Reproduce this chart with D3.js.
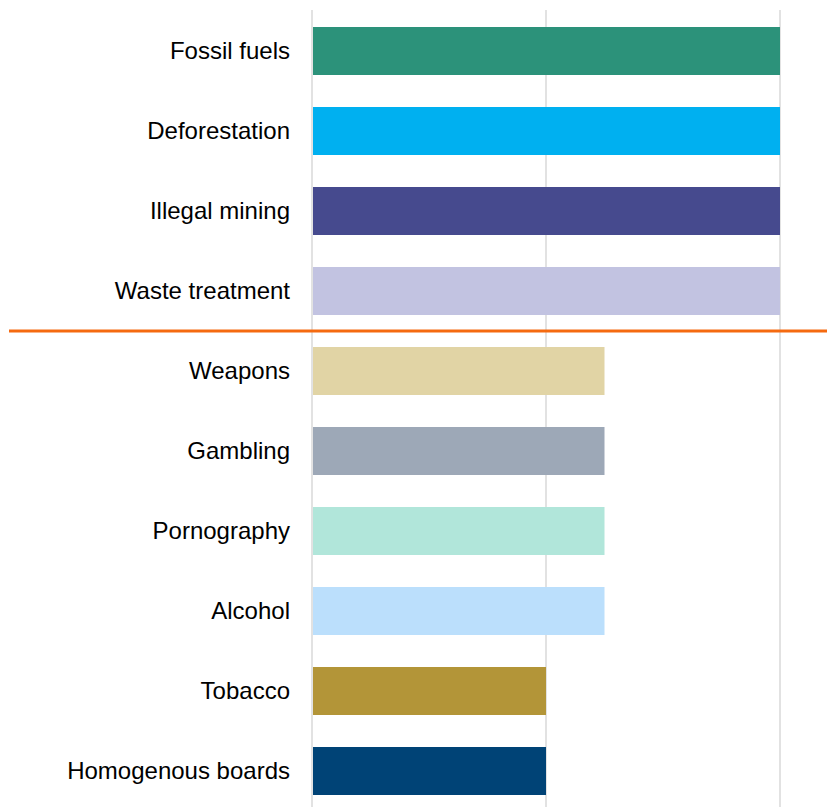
<!DOCTYPE html>
<html>
<head>
<meta charset="utf-8">
<script src="https://cdn.jsdelivr.net/npm/d3@7"></script>
<style>
  html, body { margin: 0; padding: 0; background: #fff; }
  svg { display: block; }
</style>
</head>
<body>
<svg id="chart" width="827" height="807"></svg>
<script>
const categories = ["Fossil fuels", "Deforestation", "Illegal mining", "Waste treatment", "Weapons", "Gambling", "Pornography", "Alcohol", "Tobacco", "Homogenous boards"];
const values = [2, 2, 2, 2, 1.25, 1.25, 1.25, 1.25, 1, 1];
const colors = ["#2C927A", "#00B0F0", "#464A8E", "#C2C3E1", "#E1D4A5", "#9DA8B7", "#B1E6DA", "#BBDFFC", "#B39538", "#004376"];
const gridTicks = [0, 1, 2];
const separatorAfter = "Waste treatment";

const svg = d3.select("#chart");
const x = d3.scaleLinear().domain([0, 2]).range([312, 780]);
const y = d3.scaleBand().domain(categories).range([11, 811]).paddingInner(0.4).paddingOuter(0.2);

// gridlines
svg.append("g").selectAll("line").data(gridTicks).join("line")
  .attr("x1", d => x(d)).attr("x2", d => x(d))
  .attr("y1", 10).attr("y2", 807)
  .attr("stroke", "#d9d9d9").attr("stroke-width", 1.5);

// bars
svg.append("g").selectAll("rect").data(categories).join("rect")
  .attr("x", x(0) + 1)
  .attr("y", d => y(d))
  .attr("width", (d, i) => x(values[i]) - x(0) - 1)
  .attr("height", y.bandwidth())
  .attr("fill", (d, i) => colors[i]);

// labels
svg.append("g").selectAll("text").data(categories).join("text")
  .attr("x", 290)
  .attr("y", d => y(d) + y.bandwidth() / 2)
  .attr("dy", "0.34em")
  .attr("text-anchor", "end")
  .attr("font-family", "'Liberation Sans', Arial, sans-serif")
  .attr("font-size", 24)
  .attr("fill", "#000")
  .text(d => d);

// separator line
const idx = categories.indexOf(separatorAfter);
const sepY = (y(categories[idx]) + y.bandwidth() + y(categories[idx + 1])) / 2;
svg.append("line")
  .attr("x1", 9).attr("x2", 827)
  .attr("y1", sepY).attr("y2", sepY)
  .attr("stroke", "#F56A10").attr("stroke-width", 3);
</script>
</body>
</html>
